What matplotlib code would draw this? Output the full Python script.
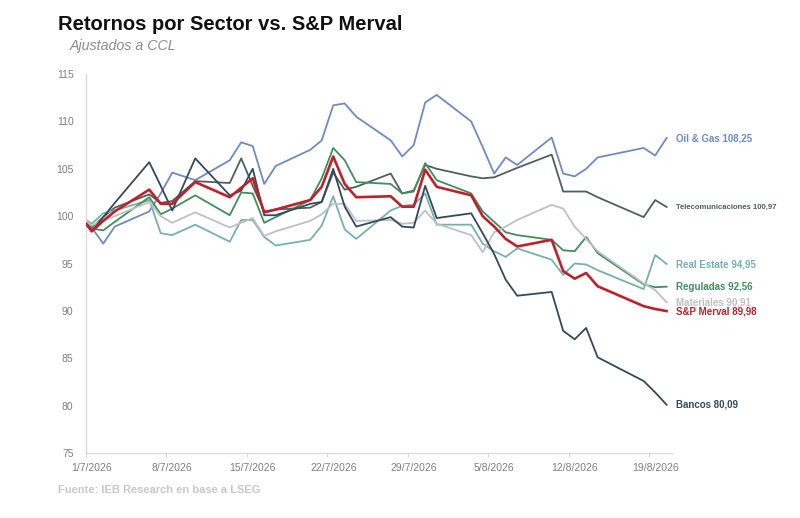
import numpy as np
import pandas as pd
import matplotlib
matplotlib.use("Agg")
import matplotlib.pyplot as plt
from matplotlib.ticker import FixedLocator

plt.rcParams['font.family'] = ['Liberation Sans', 'DejaVu Sans']

# Trading dates (first point is the base, clipped at the axis start)
dates = ["30/6/2026", "1/7/2026", "2/7/2026", "3/7/2026", "6/7/2026", "7/7/2026",
         "8/7/2026", "10/7/2026", "13/7/2026", "14/7/2026", "15/7/2026", "16/7/2026",
         "17/7/2026", "20/7/2026", "21/7/2026", "22/7/2026", "23/7/2026", "24/7/2026",
         "27/7/2026", "28/7/2026", "29/7/2026", "30/7/2026", "31/7/2026", "3/8/2026",
         "4/8/2026", "5/8/2026", "6/8/2026", "7/8/2026", "10/8/2026", "11/8/2026",
         "12/8/2026", "13/8/2026", "14/8/2026", "18/8/2026", "19/8/2026", "20/8/2026"]

oil_gas = [100, 98.8, 97.1, 98.9, 100.5, 102.4, 104.6, 103.8, 105.9, 107.8, 107.4, 103.4,
           105.3, 107.0, 108.0, 111.7, 111.9, 110.5, 108.0, 106.3, 107.5, 112.0, 112.8, 110.0,
           107.3, 104.5, 106.2, 105.4, 108.3, 104.5, 104.2, 105.0, 106.2, 107.2, 106.4, 108.25]
telecom = [100, 98.8, 99.9, 100.9, 102.3, 101.4, 101.6, 103.7, 103.5, 106.1, 103.2, 100.5,
           100.7, 100.9, 101.5, 104.6, 102.8, 103.1, 104.5, 102.4, 102.7, 105.4, 105.0, 104.2,
           104.0, 104.1, 104.6, 105.1, 106.5, 102.6, 102.6, 102.6, 102.0, 99.9, 101.7, 100.97]
real_estate = [100, 99.2, 100.3, 100.6, 101.7, 98.2, 98.0, 99.1, 97.3, 99.6, 99.6, 97.8,
               96.9, 97.5, 99.0, 102.1, 98.6, 97.6, 100.6, 101.1, 101.2, 102.4, 99.1, 99.1,
               97.1, 96.3, 95.7, 96.6, 95.4, 93.8, 95.0, 94.9, 94.3, 92.3, 95.9, 94.95]
reguladas = [100, 98.7, 98.5, 99.4, 102.0, 100.2, 100.8, 102.2, 100.1, 102.5, 102.4, 99.3,
             99.9, 101.7, 104.0, 107.2, 105.9, 103.6, 103.4, 102.4, 102.6, 105.6, 103.8, 102.4,
             100.5, 99.4, 98.3, 98.0, 97.5, 96.4, 96.3, 97.8, 96.1, 92.8, 92.5, 92.56]
materiales = [100, 99.0, 99.6, 100.0, 101.5, 100.0, 99.3, 100.4, 98.8, 99.3, 99.8, 97.9,
              98.4, 99.5, 100.2, 101.3, 101.3, 99.5, 99.6, 99.2, 99.3, 100.6, 99.2, 98.0,
              96.2, 98.3, 98.9, 99.6, 101.2, 100.8, 98.9, 97.6, 96.3, 92.9, 92.2, 90.91]
merval = [100, 98.4, 99.5, 100.5, 102.8, 101.3, 101.3, 103.6, 102.0, 103.0, 104.0, 100.4,
          100.7, 101.7, 103.1, 106.3, 103.4, 102.0, 102.1, 101.0, 101.0, 104.9, 103.1, 102.2,
          100.0, 98.9, 97.6, 96.8, 97.5, 94.2, 93.4, 94.0, 92.6, 90.5, 90.2, 89.98]
bancos = [100, 98.4, 99.9, 101.4, 105.7, 103.2, 100.6, 106.1, 102.2, 102.7, 105.0, 100.1,
          100.1, 101.3, 101.5, 105.0, 101.0, 98.9, 99.9, 98.9, 98.8, 103.2, 99.8, 100.3,
          98.2, 96.0, 93.3, 91.6, 92.0, 87.9, 87.0, 88.2, 85.1, 82.6, 81.4, 80.09]

series = [
    ("Oil & Gas", oil_gas, "#6F8AC6"),
    ("Telecomunicaciones", telecom, "#4F6159"),
    ("Real Estate", real_estate, "#74B2AD"),
    ("Reguladas", reguladas, "#3F8F5D"),
    ("Materiales", materiales, "#C0C0C0"),
    ("Bancos", bancos, "#34495E"),
    ("S&P Merval", merval, "#C0202A"),
]

tick_dates = ["1/7/2026", "8/7/2026", "15/7/2026", "22/7/2026",
              "29/7/2026", "5/8/2026", "12/8/2026", "19/8/2026"]

origin = pd.Timestamp(2026, 7, 1)
to_days = lambda s: (pd.to_datetime(s, format="%d/%m/%Y") - origin).days
x = np.array([to_days(d) for d in dates])

fig = plt.figure(figsize=(8, 5.18), dpi=100)
ax = fig.add_axes([0.1075, 0.1255, 0.733, 0.7315])

for name, vals, col in series:
    lw = 1.9 if name == "S&P Merval" else 1.3
    ax.plot(x, vals, color=col, lw=lw, zorder=3 if name == "S&P Merval" else 2)
    label = "{} {}".format(name, "{:.2f}".format(vals[-1]).replace(".", ","))
    # the long telecom label is set a bit smaller so it fits like in the source
    fs = 5.6 if name == "Telecomunicaciones" else 7
    ax.text(x[-1] + 0.8, vals[-1], label, color=col, fontsize=fs, fontweight="bold",
            va="center", ha="left", clip_on=False)

ax.set_xlim(-0.5, 50.5)
ax.set_ylim(75, 115)
ax.set_yticks(np.arange(75, 116, 5))

ticks = [to_days(d) for d in tick_dates]
ax.set_xticks(ticks)
ax.set_xticklabels(tick_dates)
ax.xaxis.set_minor_locator(FixedLocator([t - 0.5 for t in ticks]))
ax.tick_params(axis="x", which="major", length=0, pad=7, labelsize=7.5, labelcolor="#7F7F7F")
ax.tick_params(axis="x", which="minor", length=3, color="#D9D9D9", width=0.8)
ax.tick_params(axis="y", length=0, pad=9, labelsize=7.5, labelcolor="#7F7F7F")

for s in ["top", "right"]:
    ax.spines[s].set_visible(False)
for s in ["left", "bottom"]:
    ax.spines[s].set_color("#D9D9D9")
    ax.spines[s].set_linewidth(0.9)

fig.text(0.0725, 0.952, "Retornos por Sector vs. S&P Merval", fontsize=14.5,
         fontweight="bold", color="#111111", va="center", ha="left")
fig.text(0.0875, 0.912, "Ajustados a CCL", fontsize=10.3, style="italic",
         color="#8C8C8C", va="center", ha="left")
fig.text(0.0725, 0.054, "Fuente: IEB Research en base a LSEG", fontsize=8,
         fontweight="bold", color="#C8C8C8", va="center", ha="left")

fig.savefig("out.png", dpi=100, facecolor="white")
